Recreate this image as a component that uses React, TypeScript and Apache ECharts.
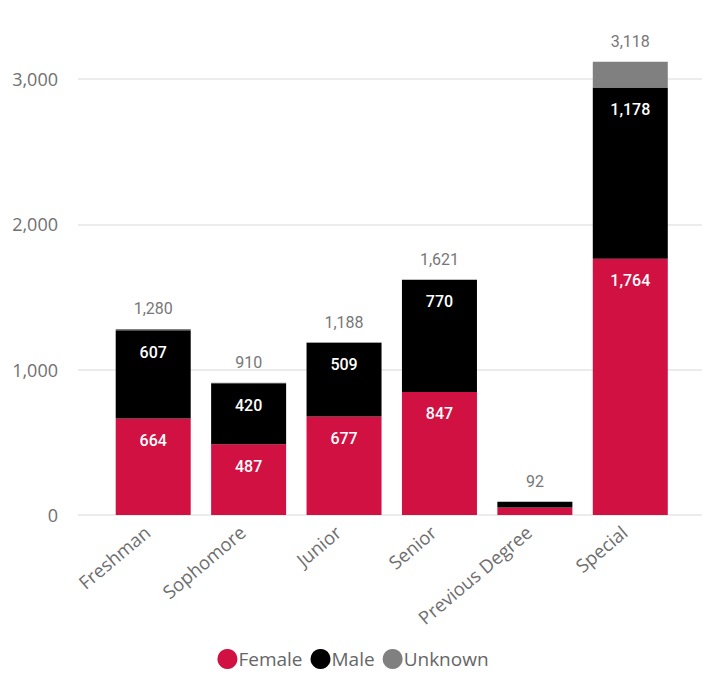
import React, { useEffect, useRef } from "react";
import * as echarts from "echarts";

const categories = ["Freshman", "Sophomore", "Junior", "Senior", "Previous Degree", "Special"];
const female = [664, 487, 677, 847, 52, 1764];
const male = [607, 420, 509, 770, 40, 1178];
const unknown = [9, 3, 2, 4, 0, 176];
const yTicks = [0, 1000, 2000, 3000];

const totals = categories.map((_, i) => female[i] + male[i] + unknown[i]);
const fmt = (v: number) => v.toLocaleString("en-US");

export default function App() {
  const ref = useRef<HTMLDivElement>(null);
  useEffect(() => {
    if (!ref.current) return;
    const chart = echarts.init(ref.current, undefined, { renderer: "svg" });
    const yMax = 3300;
    const top = 515 - (yMax * 436) / 3000;
    const bottom = 687 - 515;
    const insideLabel = {
      show: true,
      position: "insideTop",
      distance: 14,
      color: "#ffffff",
      fontFamily: "Roboto",
      fontSize: 16,
      fontWeight: 500,
      formatter: (p: any) => (p.value >= 100 ? fmt(p.value) : ""),
    };
    chart.setOption({
      animation: false,
      backgroundColor: "#ffffff",
      textStyle: { fontFamily: "Open Sans" },
      legend: {
        data: [
          { name: "Female", itemStyle: { color: "#D01142" } },
          { name: "Male", itemStyle: { color: "#000000" } },
          { name: "Unknown", itemStyle: { color: "#808080" } },
        ],
        icon: "circle",
        itemWidth: 20,
        itemHeight: 20,
        itemGap: 8,
        left: "center",
        top: 644,
        textStyle: { color: "#666666", fontSize: 19, fontFamily: "Open Sans", padding: [0, 0, 0, -4] },
      },
      grid: [
        { left: 78, right: 4, top, bottom, containLabel: false },
        { left: 105.5, right: 28, top, bottom, containLabel: false },
      ],
      xAxis: [
        { type: "value", gridIndex: 0, show: false, min: 0, max: 1 },
        {
          type: "category",
          gridIndex: 1,
          data: categories,
          axisLine: { show: false },
          axisTick: { show: false },
          axisLabel: {
            rotate: 40,
            color: "#6e6e6e",
            fontSize: 18.5,
            fontFamily: "Open Sans",
            margin: 9,
            padding: [0, 8, 0, 0],
            interval: 0,
          },
        },
      ],
      yAxis: [
        {
          type: "value",
          gridIndex: 0,
          min: 0,
          max: yMax,
          interval: 1000,
          axisLine: { show: false },
          axisTick: { show: false },
          splitLine: { show: true, showMaxLine: false, lineStyle: { color: "#e6e6e6", width: 1.5 } },
          axisLabel: {
            showMaxLabel: false,
            margin: 20,
            color: "#707070",
            fontSize: 18,
            fontFamily: "Open Sans",
            formatter: (v: number) => (yTicks.includes(v) ? fmt(v) : ""),
          },
        },
        {
          type: "value",
          gridIndex: 1,
          min: 0,
          max: yMax,
          interval: 1000,
          show: false,
          splitLine: { show: false },
        },
      ],
      series: [
        {
          name: "Female",
          type: "bar",
          stack: "s",
          xAxisIndex: 1,
          yAxisIndex: 1,
          barWidth: 75,
          data: female,
          itemStyle: { color: "#D01142" },
          label: insideLabel,
        },
        {
          name: "Male",
          type: "bar",
          stack: "s",
          xAxisIndex: 1,
          yAxisIndex: 1,
          barWidth: 75,
          data: male,
          itemStyle: { color: "#000000" },
          label: insideLabel,
        },
        {
          name: "Unknown",
          type: "bar",
          stack: "s",
          xAxisIndex: 1,
          yAxisIndex: 1,
          barWidth: 75,
          data: unknown,
          itemStyle: { color: "#808080" },
        },
        {
          name: "Total",
          type: "bar",
          stack: "s",
          xAxisIndex: 1,
          yAxisIndex: 1,
          barWidth: 75,
          data: categories.map(() => 0),
          itemStyle: { color: "transparent" },
          label: {
            show: true,
            position: "top",
            distance: 12,
            color: "#777777",
            fontFamily: "Roboto",
            fontSize: 16,
            formatter: (p: any) => fmt(totals[p.dataIndex]),
          },
        },
      ],
    });
    return () => chart.dispose();
  }, []);
  return <div ref={ref} style={{ width: 706, height: 687, position: "absolute", left: 0, top: 0 }} />;
}
